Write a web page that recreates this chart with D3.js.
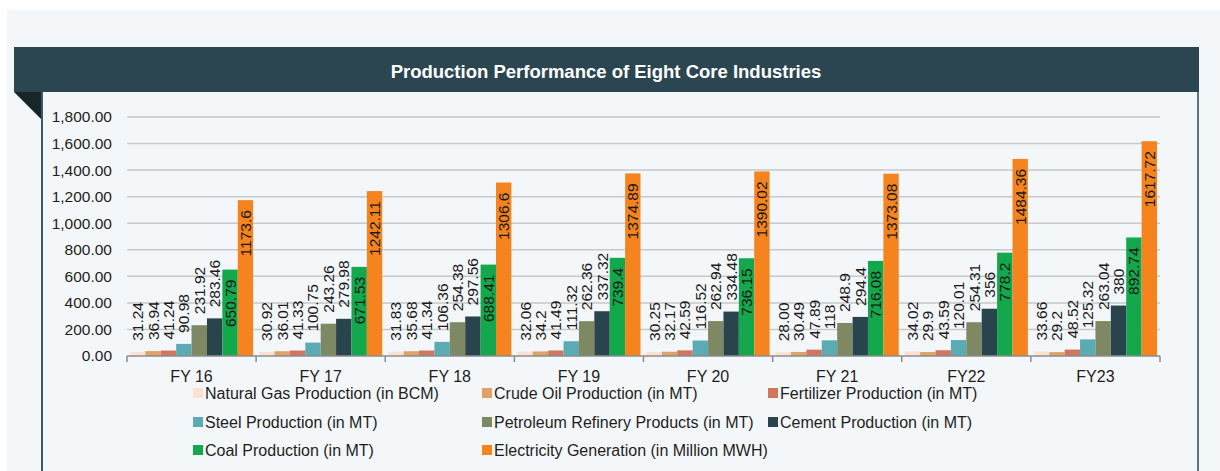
<!DOCTYPE html>
<html>
<head>
<meta charset="utf-8">
<script src="https://cdn.jsdelivr.net/npm/d3@7"></script>
<style>
  html, body { margin: 0; padding: 0; background: #ffffff; }
  svg { display: block; font-family: "Liberation Sans", Arial, sans-serif; }
</style>
</head>
<body>
<svg id="chart" width="1220" height="471"></svg>
<script>
// ---------- DATA ----------
const categories = ["FY 16", "FY 17", "FY 18", "FY 19", "FY 20", "FY 21", "FY22", "FY23"];
const seriesNames = [
  "Natural Gas Production (in BCM)",
  "Crude Oil Production (in MT)",
  "Fertilizer Production (in MT)",
  "Steel Production (in MT)",
  "Petroleum Refinery Products (in MT)",
  "Cement Production (in MT)",
  "Coal Production (in MT)",
  "Electricity Generation (in Million MWH)"
];
const seriesColors = ["#fbe1cf", "#dea266", "#d2755f", "#5aabb3", "#7e8862", "#2a444e", "#13a84b", "#f5841f"];
const naturalGas  = ["31.24", "30.92", "31.83", "32.06", "30.25", "28.00", "34.02", "33.66"];
const crudeOil    = ["36.94", "36.01", "35.68", "34.2", "32.17", "30.49", "29.9", "29.2"];
const fertilizer  = ["41.24", "41.33", "41.34", "41.49", "42.59", "47.89", "43.59", "48.52"];
const steel       = ["90.98", "100.75", "106.36", "111.32", "116.52", "118", "120.01", "125.32"];
const petroleum   = ["231.92", "243.26", "254.38", "262.36", "262.94", "248.9", "254.31", "263.04"];
const cement      = ["283.46", "279.98", "297.56", "337.32", "334.48", "294.4", "356", "380"];
const coal        = ["650.79", "671.53", "688.41", "739.4", "736.15", "716.08", "778.2", "892.74"];
const electricity = ["1173.6", "1242.11", "1306.6", "1374.89", "1390.02", "1373.08", "1484.36", "1617.72"];
const yTicks = [0, 200, 400, 600, 800, 1000, 1200, 1400, 1600, 1800];
const title = "Production Performance of Eight Core Industries";

const seriesValues = [naturalGas, crudeOil, fertilizer, steel, petroleum, cement, coal, electricity];
const insideSeries = [6, 7]; // labels drawn inside bar end

// ---------- LAYOUT ----------
const svg = d3.select("#chart");
const W = 1220, H = 471;
const plot = { left: 127, right: 1160, top: 117, bottom: 356 };

// backgrounds
svg.append("rect").attr("x", 0).attr("y", 0).attr("width", W).attr("height", H).attr("fill", "#ffffff");
svg.append("rect").attr("x", 7).attr("y", 10).attr("width", W - 7).attr("height", H - 10).attr("fill", "#f4f7f9");

// header bar
svg.append("rect").attr("x", 14).attr("y", 47).attr("width", 1185).attr("height", 45).attr("fill", "#2b4650");
svg.append("path").attr("d", "M14,92 L42,92 L42,120 Z").attr("fill", "#172629");
// panel borders
svg.append("line").attr("x1", 42).attr("x2", 42).attr("y1", 92).attr("y2", H).attr("stroke", "#3e5961").attr("stroke-width", 2);
svg.append("line").attr("x1", 1198).attr("x2", 1198).attr("y1", 92).attr("y2", H).attr("stroke", "#5d747b").attr("stroke-width", 2);

svg.append("text")
  .attr("x", 606).attr("y", 78)
  .attr("text-anchor", "middle")
  .attr("fill", "#ffffff")
  .attr("font-size", "18.5px").attr("font-weight", "bold")
  .text(title);

// scales
const x0 = d3.scaleBand().domain(categories).range([plot.left, plot.right]).padding(0);
const x1 = d3.scaleBand().domain(d3.range(seriesNames.length)).range([3, x0.bandwidth() - 3]).padding(0);
const y = d3.scaleLinear().domain([0, 1800]).range([plot.bottom, plot.top]);

// gridlines
svg.append("g").selectAll("line").data(yTicks.filter(t => t > 0)).join("line")
  .attr("x1", plot.left).attr("x2", plot.right)
  .attr("y1", d => y(d)).attr("y2", d => y(d))
  .attr("stroke", "#c6c9cb").attr("stroke-width", 1.5);

// y axis labels
const yAxis = d3.axisLeft(y).tickValues(yTicks).tickFormat(d3.format(",.2f")).tickSize(0).tickPadding(15);
const yg = svg.append("g").attr("transform", `translate(${plot.left},0)`).call(yAxis);
yg.select(".domain").remove();
yg.selectAll("text").attr("font-size", "15.5px").attr("fill", "#1e1e1e").attr("font-family", "Liberation Sans, Arial, sans-serif");

// bars
const groups = svg.append("g").selectAll("g").data(categories).join("g")
  .attr("transform", d => `translate(${x0(d)},0)`);

groups.selectAll("rect")
  .data((c, ci) => seriesValues.map((arr, si) => ({ si, v: +arr[ci], label: arr[ci] })))
  .join("rect")
  .attr("x", d => x1(d.si))
  .attr("y", d => y(d.v))
  .attr("width", x1.bandwidth())
  .attr("height", d => y(0) - y(d.v))
  .attr("fill", d => seriesColors[d.si]);

// data labels
groups.selectAll("text.lbl")
  .data((c, ci) => seriesValues.map((arr, si) => ({ si, v: +arr[ci], label: arr[ci] })))
  .join("text")
  .attr("class", "lbl")
  .attr("transform", d => {
    const cx = x1(d.si) + x1.bandwidth() / 2;
    const inside = insideSeries.includes(d.si);
    const ty = inside ? y(d.v) + 10 : y(d.v) - 11;
    return `translate(${cx},${ty}) rotate(-90)`;
  })
  .attr("text-anchor", d => insideSeries.includes(d.si) ? "end" : "start")
  .attr("dominant-baseline", "central")
  .attr("font-size", "15.5px")
  .attr("fill", "#1a1a1a")
  .text(d => d.label);

// x axis
const xAxisLine = svg.append("g");
xAxisLine.append("line")
  .attr("x1", plot.left).attr("x2", plot.right)
  .attr("y1", plot.bottom).attr("y2", plot.bottom)
  .attr("stroke", "#8a8d8f").attr("stroke-width", 1.5);
xAxisLine.selectAll("line.tk").data(d3.range(categories.length + 1)).join("line")
  .attr("class", "tk")
  .attr("x1", i => plot.left + i * x0.step()).attr("x2", i => plot.left + i * x0.step())
  .attr("y1", plot.bottom).attr("y2", plot.bottom + 6)
  .attr("stroke", "#8a8d8f").attr("stroke-width", 1.5);
svg.append("g").selectAll("text").data(categories).join("text")
  .attr("x", d => x0(d) + x0.bandwidth() / 2)
  .attr("y", 382)
  .attr("text-anchor", "middle")
  .attr("font-size", "16px")
  .attr("fill", "#1e1e1e")
  .text(d => d);

// legend
const legendCols = [193, 482, 768];
const legendRows = [393, 422, 450];
const legend = svg.append("g").selectAll("g").data(seriesNames).join("g")
  .attr("transform", (d, i) => `translate(${legendCols[i % 3]},${legendRows[Math.floor(i / 3)]})`);
legend.append("rect").attr("x", 0).attr("y", -5).attr("width", 10).attr("height", 10)
  .attr("fill", (d, i) => seriesColors[i]);
legend.append("text").attr("x", 12).attr("y", 0)
  .attr("dominant-baseline", "central")
  .attr("font-size", "16px").attr("fill", "#1e1e1e")
  .text(d => d);
</script>
</body>
</html>
